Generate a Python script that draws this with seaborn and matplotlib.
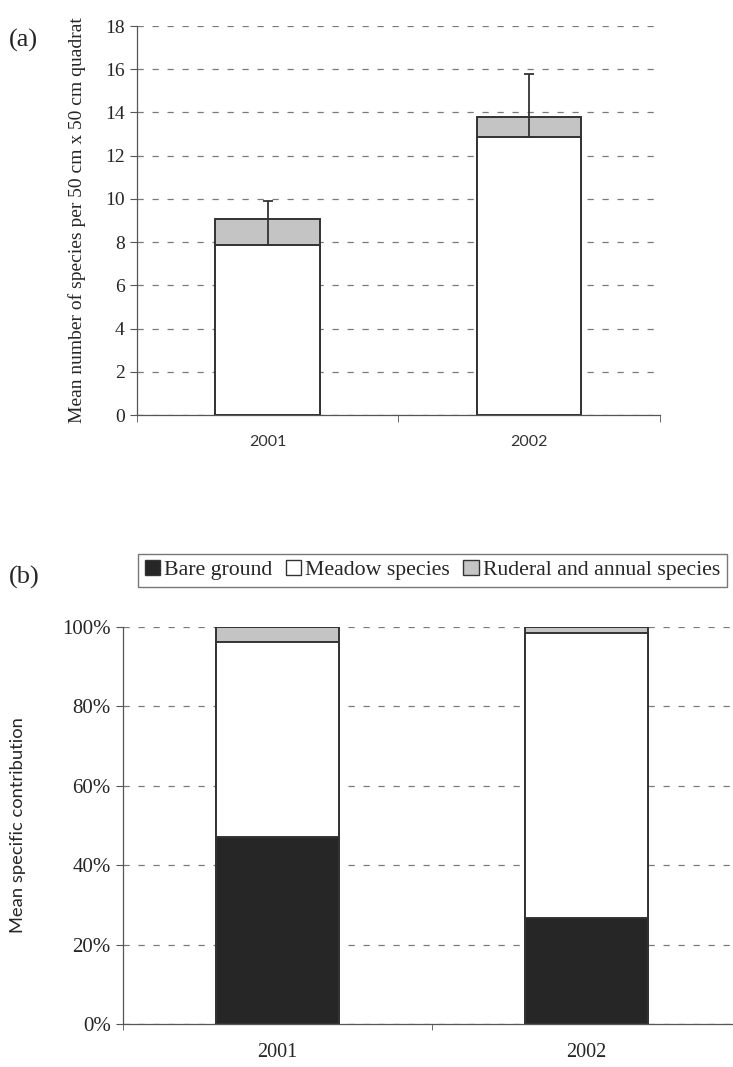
import pandas as pd
import matplotlib
matplotlib.use("Agg")
import matplotlib.pyplot as plt
import seaborn as sns
from matplotlib.patches import Patch
from matplotlib.ticker import FuncFormatter, FixedLocator

# Data
years = ["2001", "2002"]
meadow_count = [7.85, 12.85]      # mean number of meadow species
ruderal_count = [1.2, 0.95]       # mean number of ruderal/annual species
meadow_err = [2.05, 2.95]         # upper error bar on meadow species

bare_pct = [47.2, 26.6]
meadow_pct = [49.1, 72.0]
ruderal_pct = [3.7, 1.4]

legend_labels = ["Bare ground", "Meadow species", "Ruderal and annual species"]

sns.set_style("white")
plt.rcParams["font.family"] = ["Liberation Serif", "DejaVu Serif"]

dark = "#262626"
grey = "#c4c4c4"
edge = "#333333"
grid_c = "#7a7a7a"

fig = plt.figure(figsize=(7.33, 10.67), dpi=100)
ax1 = fig.add_axes([0.187, 0.611, 0.713, 0.3646])
ax2 = fig.add_axes([0.168, 0.0403, 0.843, 0.3721])

# ---- panel (a): stacked counts ----
df_a = pd.DataFrame({"year": years,
                     "total": [m + r for m, r in zip(meadow_count, ruderal_count)],
                     "meadow": meadow_count})
sns.barplot(data=df_a, x="year", y="total", color=grey, width=0.4,
            edgecolor=edge, linewidth=1.4, ax=ax1, zorder=3, saturation=1)
sns.barplot(data=df_a, x="year", y="meadow", color="white", width=0.4,
            edgecolor=edge, linewidth=1.4, ax=ax1, zorder=3, saturation=1)
ax1.errorbar(x=[0, 1], y=meadow_count, yerr=[[0, 0], meadow_err], fmt="none",
             ecolor=edge, elinewidth=1.3, capsize=3.5, capthick=1.3, zorder=4)

ax1.set_ylim(0, 18)
ax1.set_xlim(-0.5, 1.5)
ax1.set_yticks(range(0, 19, 2))
ax1.tick_params(axis="y", labelsize=14, length=5, color="#555", direction="out",
                left=True, pad=4)
ax1.tick_params(axis="x", which="major", length=0, labelsize=11.5, pad=14)
ax1.xaxis.set_minor_locator(FixedLocator([-0.5, 0.5, 1.5]))
ax1.tick_params(axis="x", which="minor", length=5, color="#555", bottom=True)
for lab in ax1.get_xticklabels():
    lab.set_family(["Lato", "DejaVu Sans"])
    lab.set_color("#333")
ax1.set_xlabel("")
ax1.set_ylabel("Mean number of species per 50 cm x 50 cm quadrat", fontsize=14)
ax1.yaxis.set_label_coords(-0.098, 0.5)
ax1.yaxis.grid(True, linestyle=(0, (5, 7)), color=grid_c, linewidth=0.9, zorder=0)
ax1.set_axisbelow(True)
sns.despine(ax=ax1, top=True, right=True)
for s in ["left", "bottom"]:
    ax1.spines[s].set_color("#555")
    ax1.spines[s].set_linewidth(0.9)

fig.text(0.012, 0.962, "(a)", fontsize=19, va="center")

# ---- panel (b): stacked percentages ----
df_b = pd.DataFrame({"year": years,
                     "total": [b + m + r for b, m, r in zip(bare_pct, meadow_pct, ruderal_pct)],
                     "bare_meadow": [b + m for b, m in zip(bare_pct, meadow_pct)],
                     "bare": bare_pct})
sns.barplot(data=df_b, x="year", y="total", color=grey, width=0.4,
            edgecolor=edge, linewidth=1.4, ax=ax2, zorder=3, saturation=1)
sns.barplot(data=df_b, x="year", y="bare_meadow", color="white", width=0.4,
            edgecolor=edge, linewidth=1.4, ax=ax2, zorder=3, saturation=1)
sns.barplot(data=df_b, x="year", y="bare", color=dark, width=0.4,
            edgecolor=edge, linewidth=1.4, ax=ax2, zorder=3, saturation=1)

ax2.set_ylim(0, 100)
ax2.set_xlim(-0.5, 1.5)
ax2.set_yticks(range(0, 101, 20))
ax2.yaxis.set_major_formatter(FuncFormatter(lambda v, p: f"{v:.0f}%"))
ax2.tick_params(axis="y", labelsize=15, length=5, color="#555", direction="out",
                left=True, pad=4)
ax2.tick_params(axis="x", which="major", length=0, labelsize=14.5, pad=14)
ax2.xaxis.set_minor_locator(FixedLocator([-0.5, 0.5, 1.5]))
ax2.tick_params(axis="x", which="minor", length=4, color="#555", bottom=True)
ax2.set_xlabel("")
ax2.set_ylabel("Mean specific contribution", fontsize=13.2,
               family=["Lato", "DejaVu Sans"])
ax2.yaxis.set_label_coords(-0.157, 0.5)
ax2.yaxis.grid(True, linestyle=(0, (5, 7)), color=grid_c, linewidth=0.9, zorder=0)
ax2.set_axisbelow(True)
sns.despine(ax=ax2, top=True, right=True)
for s in ["left", "bottom"]:
    ax2.spines[s].set_color("#555")
    ax2.spines[s].set_linewidth(0.9)

handles = [Patch(facecolor=dark, edgecolor=edge),
           Patch(facecolor="white", edgecolor=edge),
           Patch(facecolor=grey, edgecolor=edge)]
leg = fig.legend(handles, legend_labels, loc="center", bbox_to_anchor=(0.59, 0.4655),
                 ncol=3, fontsize=15.7, frameon=True, fancybox=False,
                 handlelength=0.7, handleheight=0.7, handletextpad=0.2,
                 columnspacing=0.6, borderpad=0.3)
leg.get_frame().set_edgecolor("#555")
leg.get_frame().set_linewidth(1.0)

fig.text(0.012, 0.459, "(b)", fontsize=19, va="center")

fig.savefig("out.png", dpi=100)
